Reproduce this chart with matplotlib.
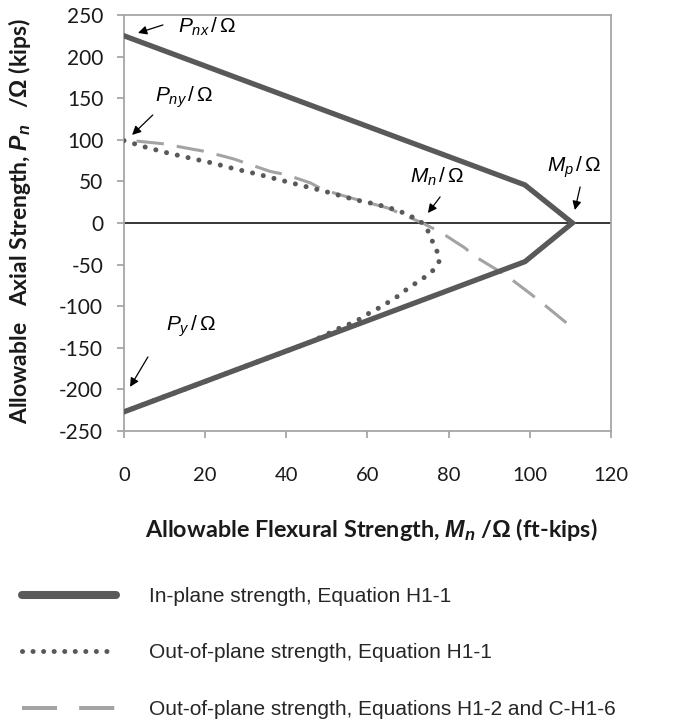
import matplotlib
matplotlib.use("Agg")
import matplotlib.pyplot as plt
from matplotlib.lines import Line2D

plt.rcParams["font.family"] = ["Lato", "DejaVu Sans"]
plt.rcParams["axes.unicode_minus"] = False
plt.rcParams["mathtext.fontset"] = "custom"
plt.rcParams["mathtext.rm"] = "Liberation Sans"
plt.rcParams["mathtext.it"] = "Liberation Sans:italic"
plt.rcParams["mathtext.bf"] = "Liberation Sans:bold"
plt.rcParams["mathtext.bfit"] = "Liberation Sans:bold:italic"

# In-plane strength (Equation H1-1)
inplane_m = [0, 98.8, 110.5, 98.8, 0]
inplane_p = [225, 45.7, 0, -46.5, -227]

# Out-of-plane strength (Equation H1-1)
oop_m = [0, 5.4, 10.9, 16.3, 21.8, 27.3, 32.7, 38.2, 43.8, 49.5, 56.9, 62.6, 67.6,
         70.4, 72.5, 74.5, 75.8, 77.0, 77.8, 76.4, 74.3, 72.0, 69.6, 67.3, 64.9,
         62.5, 60.2, 57.9, 55.3, 52.8, 50.3, 46.0, 0]
oop_p = [99, 91, 84, 78, 72, 65, 59, 52, 45, 38, 28, 22, 15,
         8.4, 4.4, -5, -20, -32, -45, -56, -64.5, -72, -80, -88.6, -96,
         -103, -109, -116, -122, -127, -133, -143, -227]

# Out-of-plane strength (Equations H1-2 and C-H1-6)
alt_m = [0, 10, 16.5, 20, 27, 30, 36, 40, 46, 49, 56, 65, 73.5, 78, 84, 86.4,
         91.8, 95, 100.4, 104, 109]
alt_p = [100, 95, 89, 86, 77, 72, 62, 58, 48, 40, 30, 18, 0, -11, -30, -40,
         -56, -66, -86, -100, -120]

legend_labels = ["In-plane strength, Equation H1-1",
                 "Out-of-plane strength, Equation H1-1",
                 "Out-of-plane strength, Equations H1-2 and C-H1-6"]

dark = "#595959"
light = "#a3a3a3"
axis_gray = "#a6a6a6"

fig = plt.figure(figsize=(6.76, 7.23), dpi=100)
ax = fig.add_axes([0.1834, 0.4039, 0.7204, 0.5754])

# drawn from the far end so the last dash lands on the end point
ax.plot(alt_m[::-1], alt_p[::-1], color=light, lw=2.2, linestyle=(0, (9, 4.3)), zorder=3)
ax.plot(oop_m, oop_p, color=dark, lw=3.6, linestyle=(0, (0.01, 2.2)),
        dash_capstyle="round", zorder=4)
ax.plot(inplane_m, inplane_p, color=dark, lw=3.8, solid_joinstyle="miter", zorder=5)
ax.axhline(0, color="black", lw=1.1, zorder=2)

ax.set_xlim(0, 120)
ax.set_ylim(-250, 250)
ax.set_xticks(range(0, 121, 20))
ax.set_yticks(range(-250, 251, 50))
for s in ax.spines.values():
    s.set_color(axis_gray)
    s.set_linewidth(1.3)
ax.tick_params(axis="y", direction="out", length=5, width=1.3, color=axis_gray,
               labelsize=15, pad=10, labelcolor="#1a1a1a")
ax.tick_params(axis="x", direction="out", length=5, width=1.3, color=axis_gray,
               labelsize=14.5, pad=21, labelcolor="#1a1a1a")

ax.set_xlabel(r"Allowable Flexural Strength, $\mathbfit{M}_{\mathbfit{n}}$ /$\mathbf{\Omega}$ (ft-kips)",
              fontsize=16.8, fontweight="bold", color="#1a1a1a")
ax.xaxis.set_label_coords(0.508, -0.205)
ax.set_ylabel(r"Allowable   Axial Strength, $\mathbfit{P}_{\mathbfit{n}}$   /$\mathbf{\Omega}$ (kips)",
              fontsize=16.5, fontweight="bold", color="#1a1a1a")
ax.yaxis.set_label_coords(-0.187, 0.505)

arrow = dict(arrowstyle="-|>", color="black", lw=0.9, mutation_scale=13,
             shrinkA=0, shrinkB=0)
ax.annotate("", xy=(3.45, 228.4), xytext=(9.6, 238), arrowprops=arrow, annotation_clip=False)
ax.text(20.5, 236, r"$P_{nx}\,/\,\Omega$", fontsize=15, ha="center", va="center")
ax.annotate("", xy=(2.0, 105.8), xytext=(7.1, 129.8), arrowprops=arrow)
ax.text(14.9, 151.4, r"$P_{ny}\,/\,\Omega$", fontsize=15, ha="center", va="center")
ax.annotate("", xy=(74.9, 12), xytext=(77.9, 31.3), arrowprops=arrow)
ax.text(77.1, 55.3, r"$M_{n}\,/\,\Omega$", fontsize=15, ha="center", va="center")
ax.annotate("", xy=(111.1, 15.6), xytext=(112.4, 43.3), arrowprops=arrow)
ax.text(110.9, 67.3, r"$M_{p}\,/\,\Omega$", fontsize=15, ha="center", va="center")
ax.annotate("", xy=(1.5, -197), xytext=(5.9, -161), arrowprops=arrow)
ax.text(16.5, -123.8, r"$P_{y}\,/\,\Omega$", fontsize=15, ha="center", va="center")

handles = [
    Line2D([], [], color=dark, lw=5.8, solid_capstyle="round"),
    Line2D([], [], color=dark, lw=3.6, linestyle=(0, (0.01, 2.1)), dash_capstyle="round"),
    Line2D([], [], color=light, lw=2.9, linestyle=(0, (8.7, 5.5))),
]
leg = fig.legend(handles, legend_labels, loc="upper left",
                 bbox_to_anchor=(22 / 676, 1 - 587 / 723), frameon=False,
                 prop={"family": "Liberation Sans", "size": 15},
                 handlelength=4.5, handletextpad=1.6, labelspacing=1.8,
                 borderpad=0, borderaxespad=0)
for t in leg.get_texts():
    t.set_color("#262626")

fig.savefig("out.png", dpi=100)
